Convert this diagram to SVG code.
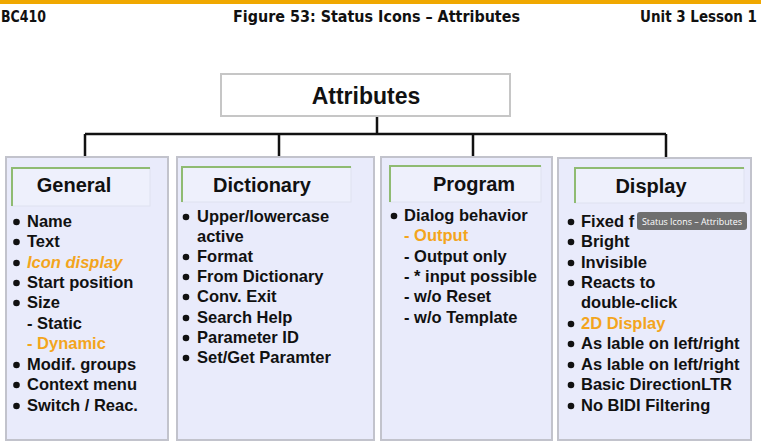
<svg xmlns="http://www.w3.org/2000/svg" width="761" height="443" viewBox="0 0 761 443">
<style>
.hdr{font-family:"DejaVu Sans Condensed","DejaVu Sans",sans-serif;font-stretch:condensed;font-weight:bold;font-size:15.5px;fill:#111}
.col{fill:#e9ebfb;stroke:#c2c3cc;stroke-width:2}
.tb{fill:#eef0fc;stroke:#dfe2f0;stroke-width:1}
.tg{fill:none;stroke:#8fbb72;stroke-width:2}
.ttl{font-family:"Liberation Sans",Arial,sans-serif;font-weight:bold;font-size:20px;fill:#111;text-anchor:middle}
.it{font-family:"Liberation Sans",Arial,sans-serif;font-weight:bold;font-size:16.5px;fill:#111}
.or{fill:#f3a51d}
.em{font-style:italic}
.con{stroke:#111;stroke-width:2.5;fill:none}
</style>
<rect width="761" height="443" fill="#ffffff"/>
<rect x="0" y="0" width="761" height="4" fill="#f0a800"/>
<text class="hdr" x="1" y="22" textLength="45" lengthAdjust="spacingAndGlyphs">BC410</text>
<text class="hdr" x="233" y="22" textLength="287" lengthAdjust="spacingAndGlyphs">Figure 53: Status Icons – Attributes</text>
<text class="hdr" x="640" y="22" textLength="117" lengthAdjust="spacingAndGlyphs">Unit 3 Lesson 1</text>

<g id="connectors">
<path class="con" d="M377 116V134M85 134H666M85 134V157M279 134V157M473 134V157M666 134V157"/>
</g>

<g id="attributes">
<rect x="221" y="74" width="289" height="42" fill="#ffffff" stroke="#c6c6c6" stroke-width="2"/>
<text x="366" y="104" font-family="Liberation Sans,Arial,sans-serif" font-weight="bold" font-size="23" text-anchor="middle" fill="#111">Attributes</text>
</g>

<g id="general">
<rect class="col" x="6" y="157" width="162" height="283"/>
<rect class="tb" x="12" y="168" width="138" height="38"/>
<path class="tg" d="M12 206V168H150"/>
<text class="ttl" x="74" y="192">General</text>
<g class="it">
<text x="27" y="227">Name</text>
<text x="27" y="247">Text</text>
<text x="27" y="268" class="or em">Icon display</text>
<text x="27" y="288">Start position</text>
<text x="27" y="308">Size</text>
<text x="27" y="329">- Static</text>
<text x="27" y="349" class="or">- Dynamic</text>
<text x="27" y="370">Modif. groups</text>
<text x="27" y="390">Context menu</text>
<text x="27" y="411">Switch / Reac.</text>
</g>
<g fill="#111">
<circle cx="16.5" cy="222" r="3.3"/><circle cx="16.5" cy="242" r="3.3"/><circle cx="16.5" cy="263" r="3.3"/><circle cx="16.5" cy="283" r="3.3"/><circle cx="16.5" cy="303" r="3.3"/><circle cx="16.5" cy="365" r="3.3"/><circle cx="16.5" cy="385" r="3.3"/><circle cx="16.5" cy="406" r="3.3"/>
</g>
</g>

<g id="dictionary">
<rect class="col" x="177" y="157" width="197" height="283"/>
<rect class="tb" x="182" y="167" width="169" height="35"/>
<path class="tg" d="M182 202V167H351"/>
<text class="ttl" x="262" y="192">Dictionary</text>
<g class="it">
<text x="197" y="222">Upper/lowercase</text>
<text x="197" y="242">active</text>
<text x="197" y="262">Format</text>
<text x="197" y="282">From Dictionary</text>
<text x="197" y="302">Conv. Exit</text>
<text x="197" y="323">Search Help</text>
<text x="197" y="343">Parameter ID</text>
<text x="197" y="363">Set/Get Paramter</text>
</g>
<g fill="#111">
<circle cx="186" cy="217" r="3.3"/><circle cx="186" cy="257" r="3.3"/><circle cx="186" cy="277" r="3.3"/><circle cx="186" cy="297" r="3.3"/><circle cx="186" cy="318" r="3.3"/><circle cx="186" cy="338" r="3.3"/><circle cx="186" cy="358" r="3.3"/>
</g>
</g>

<g id="program">
<rect class="col" x="381" y="157" width="171" height="283"/>
<rect class="tb" x="390" y="166" width="151" height="36"/>
<path class="tg" d="M390 202V166H541"/>
<text class="ttl" x="474" y="191">Program</text>
<g class="it">
<text x="404" y="221">Dialog behavior</text>
<text x="404" y="241" class="or">- Output</text>
<text x="404" y="262">- Output only</text>
<text x="404" y="282">- * input possible</text>
<text x="404" y="302">- w/o Reset</text>
<text x="404" y="323">- w/o Template</text>
</g>
<circle cx="394" cy="216" r="3.3" fill="#111"/>
</g>

<g id="display">
<rect class="col" x="558" y="158" width="193" height="282"/>
<rect class="tb" x="575" y="168" width="169" height="35"/>
<path class="tg" d="M575 203V168H744"/>
<text class="ttl" x="651" y="193">Display</text>
<g class="it">
<text x="581" y="227">Fixed f</text>
<text x="581" y="247">Bright</text>
<text x="581" y="268">Invisible</text>
<text x="581" y="288">Reacts to</text>
<text x="581" y="308">double-click</text>
<text x="581" y="329" class="or">2D Display</text>
<text x="581" y="349">As lable on left/right</text>
<text x="581" y="370">As lable on left/right</text>
<text x="581" y="390">Basic DirectionLTR</text>
<text x="581" y="411">No BIDI Filtering</text>
</g>
<g fill="#111">
<circle cx="571" cy="222" r="3.3"/><circle cx="571" cy="242" r="3.3"/><circle cx="571" cy="263" r="3.3"/><circle cx="571" cy="283" r="3.3"/><circle cx="571" cy="324" r="3.3"/><circle cx="571" cy="344" r="3.3"/><circle cx="571" cy="365" r="3.3"/><circle cx="571" cy="385" r="3.3"/><circle cx="571" cy="406" r="3.3"/>
</g>
</g>

<g id="tooltip">
<rect x="637" y="212" width="110" height="18" rx="3" fill="#6f6f6f"/>
<text x="642" y="225" font-family="Open Sans,Noto Sans,sans-serif" font-size="9.2" fill="#ffffff" textLength="100" lengthAdjust="spacingAndGlyphs">Status Icons – Attributes</text>
</g>
</svg>
